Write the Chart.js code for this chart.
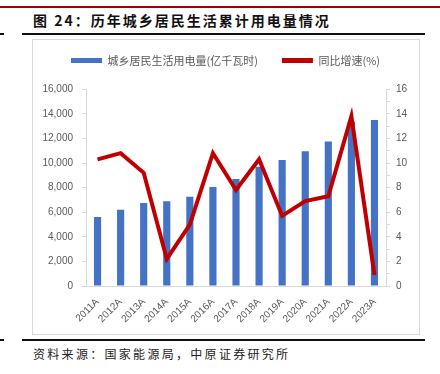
<!DOCTYPE html>
<html>
<head>
<meta charset="utf-8">
<script src="https://cdn.jsdelivr.net/npm/chart.js@4"></script>
<style>
    body { margin: 0; background: #fff; width: 440px; height: 374px; position: relative; overflow: hidden; font-family: "Noto Sans CJK SC", sans-serif; }
    .topline { position: absolute; left: 0; top: 6px; width: 440px; height: 2px; background: #a00000; }
    .title { position: absolute; left: 33px; top: 10px; font-size: 14px; font-weight: bold; letter-spacing: 2px; color: #111; white-space: nowrap; }
    .rule { position: absolute; left: 22px; width: 403px; height: 2px; background: #111; }
    .dash { position: absolute; left: 0; width: 4px; height: 2px; background: #111; }
    .box { position: absolute; left: 32px; top: 39px; width: 386px; height: 294px; border: 1px solid #d9d9d9; }
    .source { position: absolute; left: 33px; top: 345px; font-size: 12px; letter-spacing: 2.3px; color: #222; white-space: nowrap; }
    #wrap { position: absolute; left: 33px; top: 27px; width: 385px; height: 306px; }
</style>
</head>
<body>
<div class="topline"></div>
<div class="title">图 24：历年城乡居民生活累计用电量情况</div>
<div class="rule" style="top:33px"></div>
<div class="dash" style="top:33px"></div>
<div class="box"></div>
<div id="wrap"><canvas id="myChart"></canvas></div>
<div class="rule" style="top:339px"></div>
<div class="dash" style="top:339px"></div>
<div class="source">资料来源：国家能源局，中原证券研究所</div>

<script>
// 年份
let years = ['2011A', '2012A', '2013A', '2014A', '2015A', '2016A', '2017A', '2018A', '2019A', '2020A', '2021A', '2022A', '2023A'];
// 城乡居民生活用电量(亿千瓦时)
let usage = [5600, 6200, 6750, 6900, 7250, 8050, 8700, 9700, 10250, 10950, 11750, 13350, 13500];
// 同比增速(%)
let growth = [10.3, 10.8, 9.2, 2.2, 5.0, 10.8, 7.8, 10.3, 5.7, 6.9, 7.3, 13.8, 0.9];

let tickColor = '#595959';
let axisColor = '#d9d9d9';

const ctx = document.getElementById('myChart').getContext('2d');

let chart1 = new Chart(ctx, {
    type: 'bar',
    data: {
        labels: years,
        datasets: [
            {
                label: '城乡居民生活用电量(亿千瓦时)',
                data: usage,
                backgroundColor: '#4472C4',
                borderWidth: 0,
                barPercentage: 0.62,
                categoryPercentage: 0.5,
                yAxisID: 'y',
                order: 1,
            },
            {
                type: 'line',
                label: '同比增速(%)',
                data: growth,
                borderColor: '#C00000',
                backgroundColor: '#C00000',
                borderWidth: 4,
                pointRadius: 0,
                tension: 0,
                yAxisID: 'y1',
                order: 0,
            },
        ],
    },
    options: {
        responsive: true,
        maintainAspectRatio: false,
        animation: false,
        layout: { padding: { top: 4, left: 0, right: 0, bottom: 0 } },
        plugins: {
            tooltip: { enabled: false },
            legend: {
                position: 'top',
                labels: {
                    boxWidth: 31,
                    boxHeight: 5,
                    padding: 24,
                    color: tickColor,
                    font: { family: '"Noto Sans CJK SC"', size: 11 },
                    sort: (a, b) => a.datasetIndex - b.datasetIndex,
                    generateLabels: function(chart) {
                        let items = Chart.defaults.plugins.legend.labels.generateLabels(chart);
                        items.forEach(item => { item.lineWidth = 0; });
                        return items;
                    },
                },
            },
            // 범례와 그래프 사이 여백
            subtitle: {
                display: true,
                text: '',
                weight: 500,
                font: { size: 1 },
                padding: { top: 0, bottom: 12 },
            },
        },
        scales: {
            x: {
                offset: true,
                grid: { display: false },
                border: { display: true, color: axisColor },
                ticks: {
                    color: tickColor,
                    font: { family: '"Liberation Sans"', size: 10 },
                    minRotation: 45,
                    maxRotation: 45,
                    padding: 2,
                },
                afterFit: function(scale) { scale.height = 47; },
            },
            y: {
                position: 'left',
                min: 0,
                max: 16000,
                grid: { drawOnChartArea: false, tickLength: 4, color: axisColor },
                border: { color: axisColor },
                ticks: {
                    stepSize: 2000,
                    color: tickColor,
                    padding: 9,
                    font: { family: '"Liberation Sans"', size: 10 },
                    callback: (v) => v.toLocaleString('en-US'),
                },
                afterFit: function(scale) { scale.width = 53; },
            },
            y1: {
                position: 'right',
                min: 0,
                max: 16,
                grid: { drawOnChartArea: false, tickLength: 4, color: axisColor },
                border: { color: axisColor },
                ticks: {
                    stepSize: 1,
                    autoSkip: false,
                    color: tickColor,
                    padding: 6,
                    font: { family: '"Liberation Sans"', size: 10 },
                    callback: (v) => (v % 2 === 0 ? String(v) : ''),
                },
                afterFit: function(scale) { scale.width = 32; },
            },
        },
    },
});
</script>
</body>
</html>
